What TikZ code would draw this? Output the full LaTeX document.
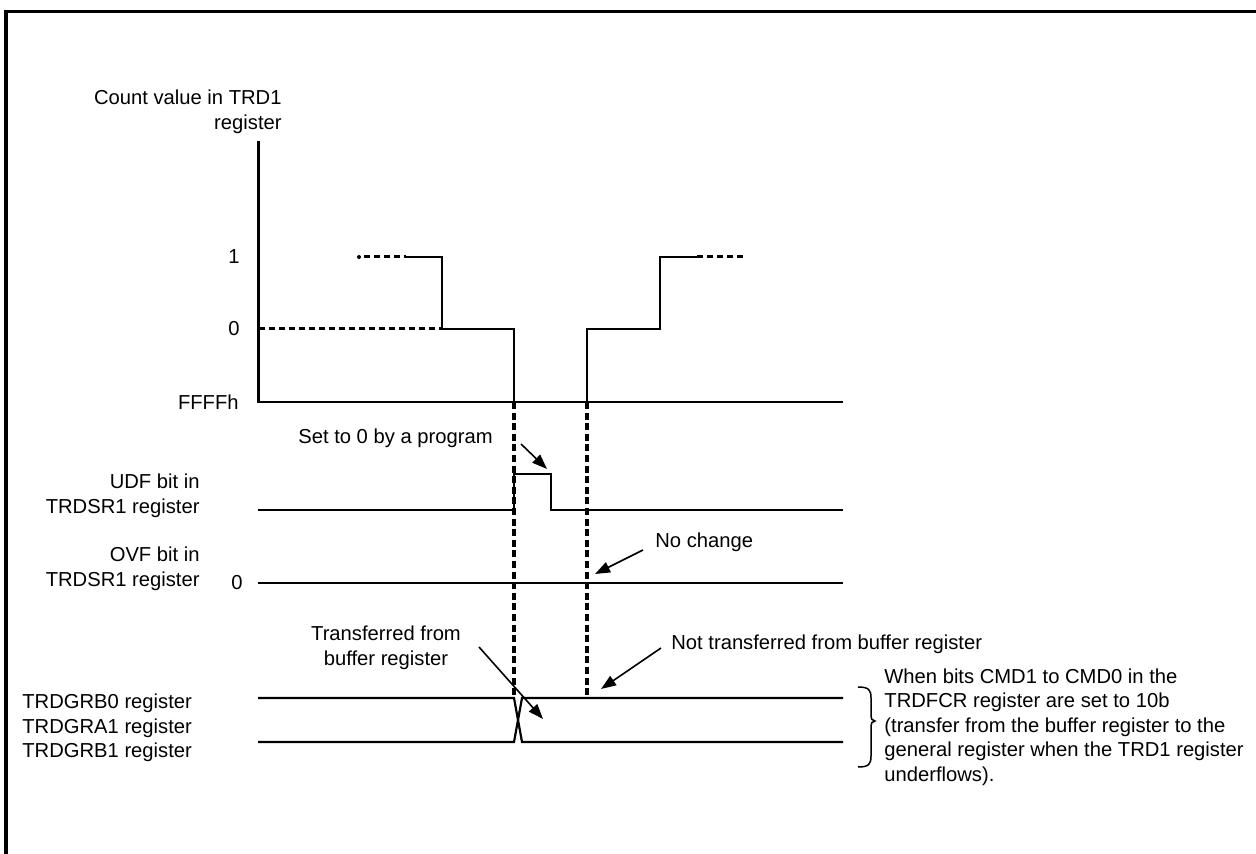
\documentclass[tikz,border=0pt]{standalone}
\usepackage{fontspec}
\setmainfont{Liberation Sans}
\usetikzlibrary{arrows.meta,positioning,calc}
\tikzset{
  sig/.style={line width=1.1pt},
  edge/.style={line width=1.8pt, dash pattern=on 3.5pt off 1.8pt},
  cont/.style={line width=1.5pt, dash pattern=on 3.2pt off 1.8pt},
  lbl/.style={font=\fontsize{10.1}{12.25}\selectfont, inner sep=0pt},
  note/.style={-{Triangle[length=7.5pt,width=5.5pt]}, line width=0.8pt},
  frame/.style={line width=1.7pt}
}

\begin{document}
\begin{tikzpicture}[x=0.5pt, y=-0.5pt]
  \useasboundingbox (0,0) rectangle (1256,854);
  % frame (top and left only)
  \draw[frame] (6,854) -- (6,11.5) -- (1256,11.5);

  % labels on the left
  \node[lbl, align=right, anchor=east] (cnt) at (282,112) {Count value in TRD1\\register};
  \node[lbl, anchor=east] (one) at (240,257) {1};
  \node[lbl, anchor=east] (zero) at (240,329) {0};
  \node[lbl, anchor=east] (ffff) at (239,402) {FFFFh};
  \node[lbl, align=right, anchor=east] (udf) at (200,496) {UDF bit in\\TRDSR1 register};
  \node[lbl, align=right, anchor=east] (ovf) at (200,569) {OVF bit in\\TRDSR1 register};
  \node[lbl, anchor=east] (ovfz) at (243,583) {0};
  \node[lbl, align=left, anchor=west] (grb) at (22,728) {TRDGRB0 register\\TRDGRA1 register\\TRDGRB1 register};

  % count value in TRD1
  \draw[sig] (258.5,141) -- (258.5,402) -- (843,402);
  \draw[cont] (258.5,329) -- (442,329);
  \fill (359,257) circle (1pt);
  \draw[cont] (364,257) -- (406,257);
  \draw[sig] (406,257) -- (442,257) -- (442,329) -- (514,329) -- (514,402);
  \draw[sig] (587,402) -- (587,329) -- (660,329) -- (660,257) -- (697,257);
  \draw[cont] (697,257) -- (743,257);

  % underflow edges
  \draw[edge] (514,402) -- (514,698);
  \draw[edge] (587,402) -- (587,697);

  % UDF and OVF bits
  \draw[sig] (258,510) -- (514,510) -- (514,474) -- (551,474) -- (551,510) -- (843,510);
  \draw[sig] (258,583) -- (843,583);

  % general registers
  \draw[sig] (258,698) -- (514,698) -- (522,742) -- (843,742);
  \draw[sig] (258,742) -- (514,742) -- (522,698) -- (843,698);

  % notes
  \node[lbl, anchor=east] (setz) at (493,438) {Set to 0 by a program};
  \node[lbl, anchor=west] (noch) at (655,542) {No change};
  \node[lbl, align=center] (xfer) at (386,648) {Transferred from\\buffer register};
  \node[lbl, anchor=west] (nxfer) at (671,644) {Not transferred from buffer register};
  \coordinate (setz-a) at (521,444);  \coordinate (setz-b) at (547,469);
  \coordinate (noch-a) at (643,550);  \coordinate (noch-b) at (595,574);
  \coordinate (xfer-a) at (479,647);  \coordinate (xfer-b) at (543,719);
  \coordinate (nxfer-a) at (661,648); \coordinate (nxfer-b) at (601,689);
  \draw[note] (setz-a) -- (setz-b);
  \draw[note] (noch-a) -- (noch-b);
  \draw[note] (xfer-a) -- (xfer-b);
  \draw[note] (nxfer-a) -- (nxfer-b);

  % brace and condition
  \draw[line width=0.75pt] (858,687) .. controls (869,687) and (871,690) .. (871,698)
    -- (871,714) .. controls (871,719) and (872,721) .. (875,721)
    .. controls (872,721) and (871,723) .. (871,728)
    -- (871,756) .. controls (871,764) and (869,767) .. (858,767);
  \node[lbl, align=left, anchor=west] (cond) at (884,727)
    {When bits CMD1 to CMD0 in the\\TRDFCR register are set to 10b\\(transfer from the buffer register to the\\general register when the TRD1 register\\underflows).};
\end{tikzpicture}
\end{document}
